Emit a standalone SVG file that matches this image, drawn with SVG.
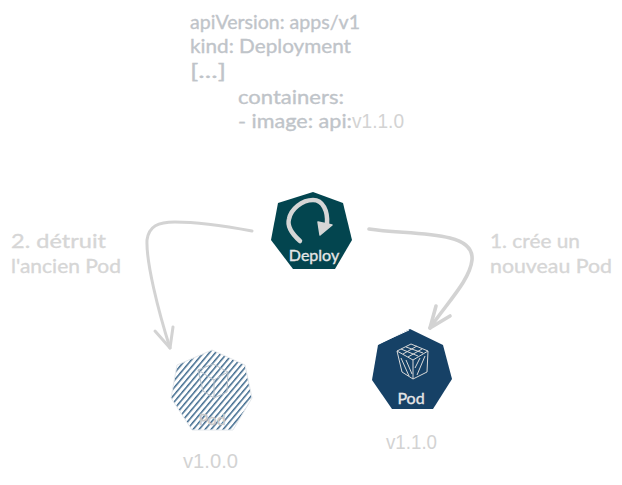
<svg xmlns="http://www.w3.org/2000/svg" width="622" height="485" viewBox="0 0 622 485">
  <style>
    .hand { font-family: "Lato", "Noto Sans", "DejaVu Sans", sans-serif; font-size: 20px; stroke-width: 0.35px; }
    .yaml { fill: #bfc4c9; stroke: #bfc4c9; }
    .lbl { fill: #d6d6d6; stroke: #d6d6d6; }
    .ver { font-family: "Liberation Sans", Arial, sans-serif; font-size: 20px; fill: #d3d3d3; }
    .conn { fill: none; stroke: #d3d3d3; stroke-width: 3; stroke-linecap: round; stroke-linejoin: round; }
    .thick { stroke-width: 3.6; }
    .inner { font-family: "Lato", "Noto Sans", sans-serif; font-size: 16px; text-anchor: middle; stroke-width: 0.35px; }
    .icon { fill: none; stroke: #d9d9d9; stroke-width: 1; }
  </style>
  <defs>
    <pattern id="hatch" width="4.6" height="4.6" patternUnits="userSpaceOnUse" patternTransform="rotate(40)">
      <rect width="4.6" height="4.6" fill="#ffffff"/>
      <rect x="0" y="0" width="1.5" height="4.6" fill="#3f6a8e"/>
    </pattern>
  </defs>
  <rect width="622" height="485" fill="#ffffff"/>

  <g id="yaml">
    <text class="hand yaml" x="190" y="29" textLength="170" lengthAdjust="spacingAndGlyphs">apiVersion: apps/v1</text>
    <text class="hand yaml" x="190" y="53" textLength="161" lengthAdjust="spacingAndGlyphs">kind: Deployment</text>
    <text class="hand yaml" x="190" y="78" textLength="36" lengthAdjust="spacingAndGlyphs">[...]</text>
    <text class="hand yaml" x="238" y="104" textLength="106" lengthAdjust="spacingAndGlyphs">containers:</text>
    <text class="hand yaml" x="238" y="128" textLength="114" lengthAdjust="spacingAndGlyphs">- image: api:</text>
    <text class="ver" x="352" y="128" textLength="52" lengthAdjust="spacingAndGlyphs">v1.1.0</text>
  </g>

  <g id="connectors">
    <path class="conn" d="M252 231 C225 226 200 222 175 222 C158 222 149 226 147 240 C146 262 158 310 170 348"/>
    <path class="conn" d="M155 331 L170 348 L173 327"/>
    <path class="conn thick" d="M369 229 C395 233 425 232 450 238 C466 242 473 249 472 260 C470 280 447 303 430 328"/>
    <path class="conn thick" d="M436 306 L430 328 L450 316"/>
  </g>

  <g id="label-left">
    <text class="hand lbl" x="11" y="248" textLength="95" lengthAdjust="spacingAndGlyphs">2. détruit</text>
    <text class="hand lbl" x="11" y="273" textLength="110" lengthAdjust="spacingAndGlyphs">l'ancien Pod</text>
  </g>
  <g id="label-right">
    <text class="hand lbl" x="490" y="248" textLength="90" lengthAdjust="spacingAndGlyphs">1. crée un</text>
    <text class="hand lbl" x="490" y="273" textLength="122" lengthAdjust="spacingAndGlyphs">nouveau Pod</text>
  </g>

  <g id="deploy">
    <polygon points="313,192 343,203 352,240 335,269 293,269 271,240 278,203" fill="#03454f"/>
    <path d="M300 241 C291 233 287 226 289 219 C291 209 302 200 313 200 C323 200 328 211 327 224" fill="none" stroke="#d6d6d6" stroke-width="4.5" stroke-linecap="round"/>
    <polygon points="318,222 332,225 320,235" fill="#d6d6d6" stroke="#d6d6d6" stroke-width="1.5" stroke-linejoin="round"/>
    <text class="inner" x="314" y="261" fill="#e6e6e6" stroke="#e6e6e6">Deploy</text>
  </g>

  <g id="pod-new">
    <polygon points="410,329 443,345 452,379 433,409 392,409 372,380 378,345" fill="#164166"/>
    <path d="M378 344 L409 330" fill="none" stroke="#ffffff" stroke-width="1"/>
    <g class="icon">
      <path d="M397 351 L411 344 L428 351 L413 360 Z"/>
      <path d="M397 351 L402 372 L413 379 L427 372 L428 351"/>
      <path d="M413 360 L413 379"/>
      <path d="M401 349 L418 356 M406 347 L423 353 M403 354 L417 346 M408 357 L422 349"/>
      <path d="M401 358 L409 376 M406 360 L412 374 M417 375 L425 356 M415 368 L420 358"/>
    </g>
    <text class="inner" x="411" y="404" fill="#e6e6e6" stroke="#e6e6e6">Pod</text>
  </g>
  <text id="version-new" class="ver" x="386" y="449" textLength="51" lengthAdjust="spacingAndGlyphs">v1.1.0</text>

  <g id="pod-old">
    <polygon points="212,350 245,365 252,398 233,430 192,430 171,398 177,365" fill="url(#hatch)" stroke="#e4e8ec" stroke-width="1"/>
    <g class="icon" style="stroke:#b4bec7">
      <path d="M198 370 L213 364 L228 372 L214 380 Z"/>
      <path d="M198 370 L203 391 L214 398 L227 392 L228 372"/>
      <path d="M214 380 L214 398"/>
    </g>
    <text class="inner" x="212" y="425" fill="#c9c9c9" stroke="#c9c9c9">Pod</text>
  </g>
  <text id="version-old" class="ver" x="183" y="468" textLength="55" lengthAdjust="spacingAndGlyphs">v1.0.0</text>
</svg>
